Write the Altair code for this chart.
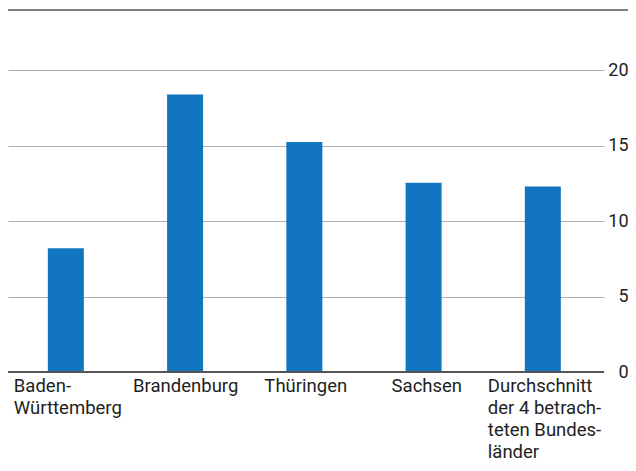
import altair as alt
import pandas as pd

categories = ["Baden-|Württemberg", "Brandenburg", "Thüringen", "Sachsen",
              "Durchschnitt|der 4 betrach-|teten Bundes-|länder"]
values = [8.2, 18.4, 15.25, 12.55, 12.3]
y_ticks = [0, 5, 10, 15, 20]
y_max = 24

df = pd.DataFrame({"cat": categories, "val": values})

FONT = "Roboto"
BLUE = "#1176bf"
TXT = "#1e1e1e"

offset_cond = {
    "condition": [
        {"test": f"datum.value == '{categories[0]}'", "value": -52},
        {"test": f"datum.value == '{categories[1]}'", "value": -52},
        {"test": f"datum.value == '{categories[2]}'", "value": -40},
        {"test": f"datum.value == '{categories[3]}'", "value": -32},
    ],
    "value": -55,
}

x_enc = alt.X(
    "cat:N", sort=categories, title=None,
    scale=alt.Scale(paddingInner=0.698, paddingOuter=0.348, align=0.48),
    axis=alt.Axis(
        labelExpr="split(datum.label, '|')",
        labelAngle=0, labelAlign="left", labelOffset=offset_cond,
        labelFont=FONT, labelFontSize=18.5, labelColor=TXT,
        labelLineHeight=22, labelPadding=4, labelBaseline="top",
        domain=False, ticks=False, grid=False, labelLimit=300,
    ),
)

bars = alt.Chart(df).mark_bar(color=BLUE).encode(
    x=x_enc,
    y=alt.Y(
        "val:Q", title=None,
        scale=alt.Scale(domain=[0, y_max], nice=False),
        axis=alt.Axis(
            orient="right", values=y_ticks, domain=False, ticks=False,
            grid=True, gridColor="#b0b0b0", gridWidth=1,
            labelFont=FONT, labelFontSize=18, labelColor=TXT,
            labelAlign="right", labelPadding=24,
        ),
    ),
)

base_rule = alt.Chart(pd.DataFrame({"y": [0]})).mark_rule(
    color="#555555", strokeWidth=2
).encode(y="y:Q")

top_rule = alt.Chart(pd.DataFrame({"y": [y_max]})).mark_rule(
    color="#555555", strokeWidth=1.5
).encode(y="y:Q", x=alt.value(0), x2=alt.value(620))

chart = alt.layer(bars, base_rule, top_rule).properties(
    width=596, height=362,
    padding={"left": 0, "top": 2, "right": 24, "bottom": 91},
    autosize=alt.AutoSizeParams(type="none"),
).configure_view(strokeWidth=0)

chart.save("out.html", embed_options={"renderer": "svg", "actions": False})
